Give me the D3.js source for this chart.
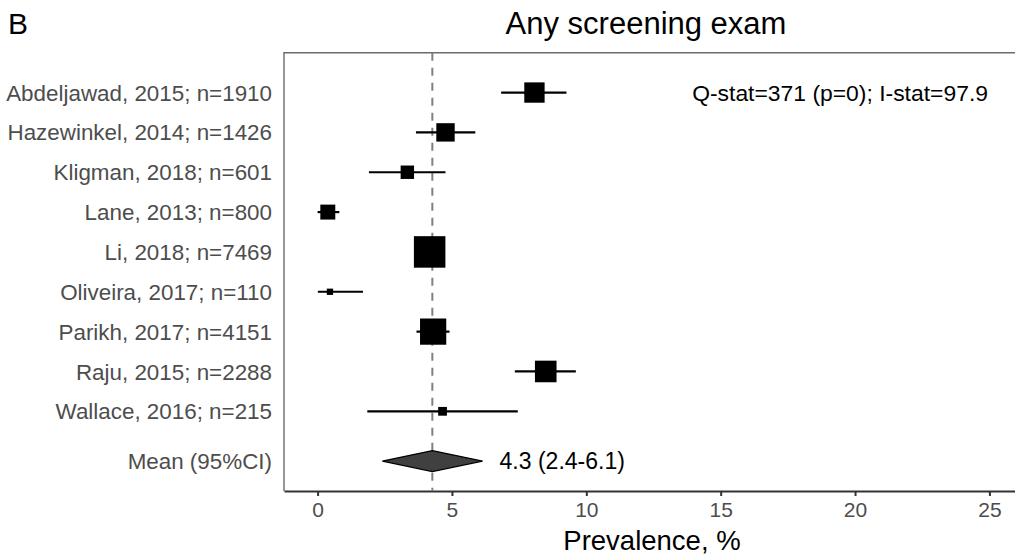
<!DOCTYPE html>
<html>
<head>
<meta charset="utf-8">
<script src="https://cdn.jsdelivr.net/npm/d3@7"></script>
<style>
  body { margin: 0; background: #fff; }
  text { font-family: "Liberation Sans", Arial, sans-serif; }
</style>
</head>
<body>
<div id="my_dataviz"></div>
<script>
// study data
const studies = ["Abdeljawad, 2015; n=1910", "Hazewinkel, 2014; n=1426", "Kligman, 2018; n=601",
  "Lane, 2013; n=800", "Li, 2018; n=7469", "Oliveira, 2017; n=110", "Parikh, 2017; n=4151",
  "Raju, 2015; n=2288", "Wallace, 2016; n=215"];
const sampleN = [1910, 1426, 601, 800, 7469, 110, 4151, 2288, 215];
const prevalence = [8.07, 4.76, 3.34, 0.38, 4.17, 0.46, 4.30, 8.49, 4.65];
const ciLow = [6.83, 3.66, 1.91, 0.00, 3.70, 0.01, 3.68, 7.34, 1.85];
const ciHigh = [9.26, 5.87, 4.76, 0.81, 4.60, 1.69, 4.91, 9.61, 7.45];

const meanLabel = "Mean (95%CI)";
const meanValue = [4.27, 2.41, 6.14]; // estimate, low, high
const meanText = "4.3 (2.4-6.1)";
const statText = "Q-stat=371 (p=0); I-stat=97.9";
const xTicks = [0, 5, 10, 15, 20, 25];

const W = 1015, H = 558;
const svg = d3.select("#my_dataviz")
  .append("svg")
  .attr("width", W)
  .attr("height", H);

// panel spans past the right edge of the picture, like the original crop
const panel = { left: 284, top: 52.7, right: 1023, bottom: 491 };

const x = d3.scaleLinear().domain([-1.25, 26.25]).range([panel.left, panel.right]);
const y = d3.scaleLinear().domain([-1, 10]).range([panel.top, panel.bottom]);
const side = d3.scalePow().exponent(0.25).domain([110, 7469]).range([6.3, 31.5]);

// panel frame (top + left)
svg.append("path")
  .attr("d", `M${panel.right},${panel.top}H${panel.left}V${panel.bottom}`)
  .attr("fill", "none")
  .attr("stroke", "#6b6b6b")
  .attr("stroke-width", 1.4);

// x axis
const xAxis = svg.append("g")
  .attr("transform", `translate(0,${panel.bottom})`)
  .call(d3.axisBottom(x).tickValues(xTicks).tickSize(5).tickSizeOuter(0).tickPadding(6));
xAxis.select(".domain").attr("stroke", "#333").attr("stroke-width", 2);
xAxis.selectAll(".tick line").attr("stroke", "#333").attr("stroke-width", 2);
xAxis.selectAll(".tick text")
  .attr("fill", "#4d4d4d")
  .style("font-size", "21px")
  .style("font-family", "Liberation Sans, Arial, sans-serif");

// dashed reference line at the pooled mean
svg.append("line")
  .attr("x1", x(meanValue[0])).attr("x2", x(meanValue[0]))
  .attr("y1", panel.top).attr("y2", panel.bottom)
  .attr("stroke", "#808080")
  .attr("stroke-width", 2)
  .attr("stroke-dasharray", "8,7");

const rows = studies.map((s, i) => ({ label: s, n: sampleN[i], p: prevalence[i], lo: ciLow[i], hi: ciHigh[i], i: i }));

// whiskers
svg.selectAll(".ci")
  .data(rows)
  .join("line")
  .attr("class", "ci")
  .attr("x1", d => x(d.lo)).attr("x2", d => x(d.hi))
  .attr("y1", d => y(d.i)).attr("y2", d => y(d.i))
  .attr("stroke", "#000")
  .attr("stroke-width", 2.2);

// squares sized by n
svg.selectAll(".pt")
  .data(rows)
  .join("rect")
  .attr("class", "pt")
  .attr("x", d => x(d.p) - side(d.n) / 2)
  .attr("y", d => y(d.i) - side(d.n) / 2)
  .attr("width", d => side(d.n))
  .attr("height", d => side(d.n))
  .attr("fill", "#000");

// row labels
svg.selectAll(".lab")
  .data(rows)
  .join("text")
  .attr("class", "lab")
  .attr("x", 272)
  .attr("y", d => y(d.i))
  .attr("dy", "0.36em")
  .attr("text-anchor", "end")
  .attr("fill", "#4d4d4d")
  .style("font-size", "22.4px")
  .text(d => d.label);

// pooled mean diamond
const meanRow = 9.25;
const dh = 10.5;
svg.append("path")
  .attr("d", `M${x(meanValue[1])},${y(meanRow)}L${x(meanValue[0])},${y(meanRow) - dh}L${x(meanValue[2])},${y(meanRow)}L${x(meanValue[0])},${y(meanRow) + dh}Z`)
  .attr("fill", "#404040")
  .attr("stroke", "#000")
  .attr("stroke-width", 1.2);

svg.append("text")
  .attr("x", 272).attr("y", y(meanRow)).attr("dy", "0.36em")
  .attr("text-anchor", "end")
  .attr("fill", "#4d4d4d")
  .style("font-size", "22.4px")
  .text(meanLabel);

svg.append("text")
  .attr("x", x(meanValue[2]) + 17).attr("y", y(meanRow)).attr("dy", "0.36em")
  .attr("fill", "#000")
  .style("font-size", "23px")
  .text(meanText);

// heterogeneity stats
svg.append("text")
  .attr("x", 988).attr("y", y(0)).attr("dy", "0.36em")
  .attr("text-anchor", "end")
  .attr("fill", "#000")
  .style("font-size", "22.9px")
  .text(statText);

// titles
svg.append("text").attr("x", 8).attr("y", 34).text("B").style("font-size", "30px").attr("fill", "#000");
svg.append("text").attr("x", 646).attr("y", 34).attr("text-anchor", "middle")
  .text("Any screening exam").style("font-size", "31px").attr("fill", "#000");
svg.append("text").attr("x", 652).attr("y", 549.5).attr("text-anchor", "middle")
  .text("Prevalence, %").style("font-size", "27.5px").attr("fill", "#000");
</script>
</body>
</html>
